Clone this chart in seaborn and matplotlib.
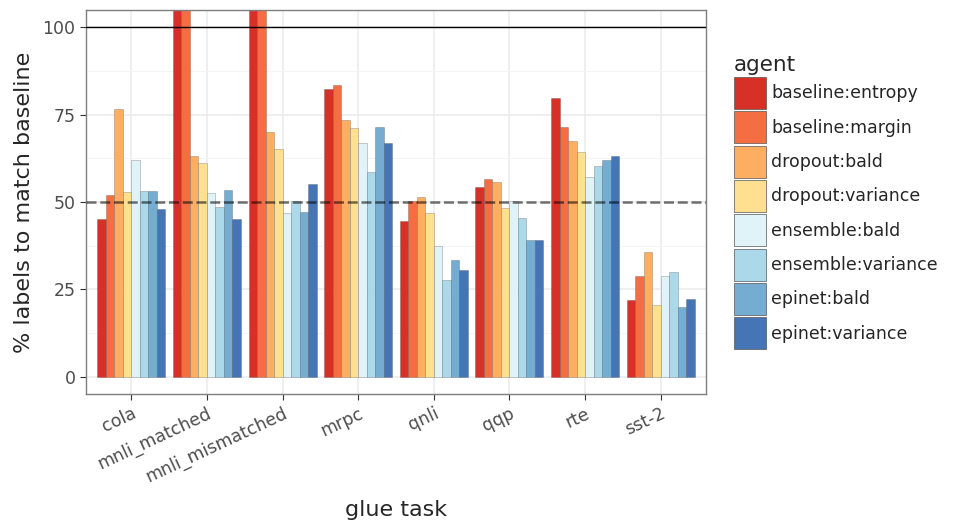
"""
Labels needed to match baseline, by glue task and agent (grouped bars).
"""

import numpy as np
import pandas as pd
import matplotlib.pyplot as plt
import seaborn as sns
from matplotlib.ticker import MultipleLocator

# data
tasks = ['cola', 'mnli_matched', 'mnli_mismatched', 'mrpc', 'qnli', 'qqp', 'rte', 'sst-2']
agents = ['baseline:entropy', 'baseline:margin', 'dropout:bald', 'dropout:variance',
          'ensemble:bald', 'ensemble:variance', 'epinet:bald', 'epinet:variance']

baseline_entropy = [45.1, 120.0, 120.0, 82.3, 44.6, 54.3, 79.7, 22.0]
baseline_margin = [52.0, 120.0, 120.0, 83.6, 50.3, 56.6, 71.4, 28.9]
dropout_bald = [76.6, 63.2, 70.0, 73.4, 51.4, 55.7, 67.4, 35.7]
dropout_variance = [52.9, 61.1, 65.1, 71.2, 46.9, 48.3, 64.3, 20.6]
ensemble_bald = [62.0, 52.7, 46.9, 66.9, 37.4, 50.3, 57.1, 28.9]
ensemble_variance = [53.1, 48.6, 50.3, 58.6, 27.7, 45.4, 60.3, 30.0]
epinet_bald = [53.1, 53.4, 47.2, 71.4, 33.4, 39.1, 62.0, 20.0]
epinet_variance = [48.0, 45.1, 55.2, 66.9, 30.6, 39.1, 63.1, 22.3]

colors = ['#d73027', '#f46d43', '#fdae61', '#fee090',
          '#e0f3f8', '#abd9e9', '#74add1', '#4575b4']


def main():
    series = [baseline_entropy, baseline_margin, dropout_bald, dropout_variance,
              ensemble_bald, ensemble_variance, epinet_bald, epinet_variance]
    df = pd.DataFrame({
        'task': np.tile(tasks, len(agents)),
        'agent': np.repeat(agents, len(tasks)),
        'value': np.concatenate(series),
    })

    sns.set_style('whitegrid')
    plt.rcParams['font.family'] = ['DejaVu Sans']

    fig = plt.figure(figsize=[9.68, 5.29], dpi=100)
    ax = fig.add_axes([86 / 968, 1 - 394 / 529, 620 / 968, 384 / 529])

    sns.barplot(data=df, x='task', y='value', hue='agent', order=tasks,
                hue_order=agents, palette=colors, saturation=1, width=0.9,
                gap=0, edgecolor='#555555', linewidth=0.5, ax=ax, zorder=2)
    for bar in ax.patches:
        bar.set_edgecolor((0.2, 0.2, 0.2, 0.35))

    # reference lines
    ax.axhline(100, color='black', linewidth=1, zorder=3)
    ax.axhline(50, color='black', linestyle=(0, (4, 1.5)), linewidth=1.8,
               alpha=0.55, zorder=3)

    ax.set_xlim(-0.6, 7.6)
    ax.set_ylim(-5, 105)
    ax.yaxis.set_major_locator(MultipleLocator(25))
    ax.yaxis.set_minor_locator(MultipleLocator(12.5))
    ax.grid(which='major', color='#ebebeb', linewidth=1.1)
    ax.grid(which='minor', axis='y', color='#f4f4f4', linewidth=0.6)
    ax.set_axisbelow(True)

    for spine in ax.spines.values():
        spine.set_color('#7f7f7f')
        spine.set_linewidth(1)
    ax.tick_params(axis='both', which='major', length=4, color='#333333',
                   labelsize=12.5, labelcolor='#4d4d4d', bottom=True, left=True)
    ax.tick_params(axis='both', which='minor', length=0)
    plt.setp(ax.get_xticklabels(), rotation=25, ha='right', rotation_mode='anchor')

    ax.set_xlabel('glue task', fontsize=16, labelpad=10)
    ax.set_ylabel('% labels to match baseline', fontsize=16, labelpad=6)

    sns.move_legend(ax, loc='center left', bbox_to_anchor=(1.034, 0.5),
                    frameon=False, title='agent', fontsize=12.5,
                    title_fontsize=15.5, handlelength=1.85, handleheight=2.45,
                    labelspacing=0.14, handletextpad=0.3, alignment='left',
                    borderaxespad=0)

    fig.savefig('out.png', dpi=100)


if __name__ == '__main__':
    main()
